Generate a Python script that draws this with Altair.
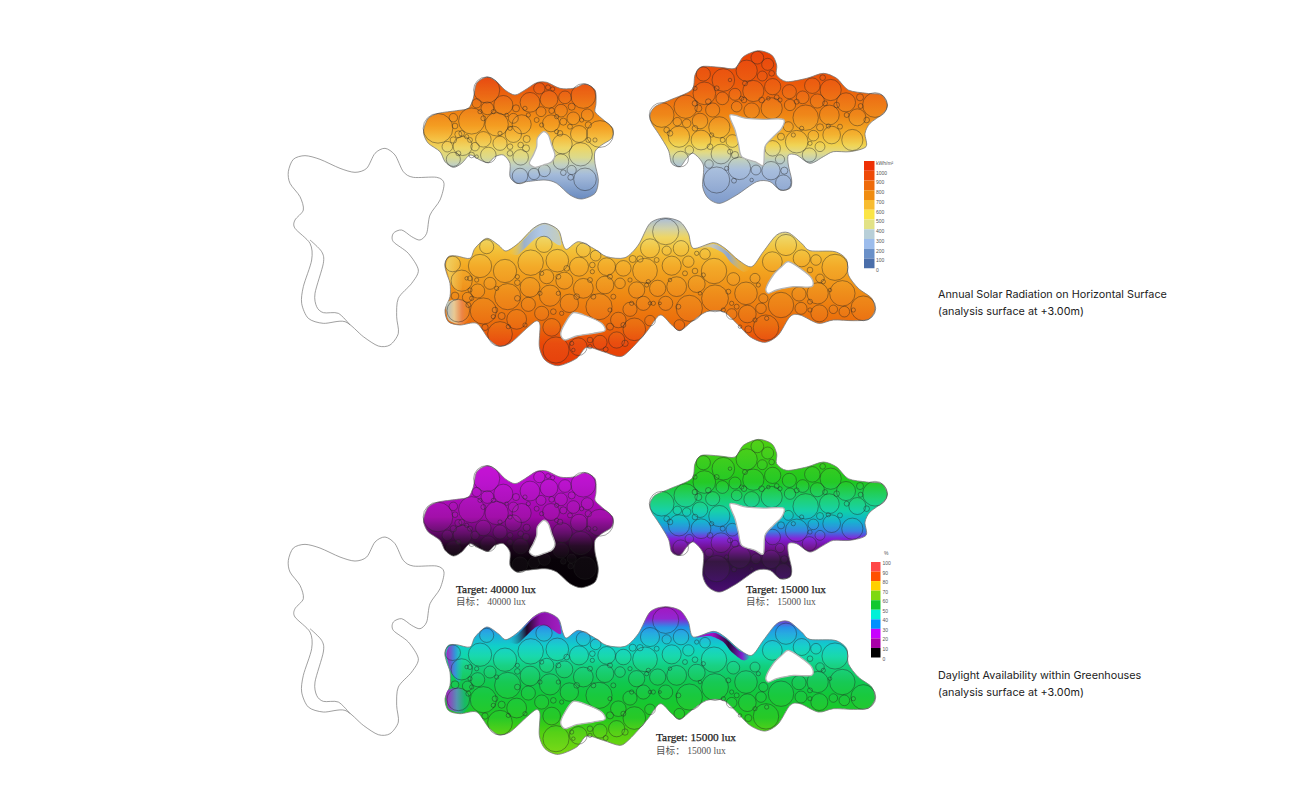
import altair as alt
import pandas as pd

TL_O = (280, 40)
TL_OUT = [(432,265),(445,235),(475,220),(530,212),(565,205),(580,175),(590,130),(622,111),(650,125),(675,150),(705,165),(735,150),(770,128),(800,127),(840,145),(880,145),(915,132),(945,150),(948,190),(945,215),(965,235),(998,265),(995,295),(965,315),(945,335),(945,370),(955,420),(945,460),(905,477),(870,465),(830,430),(795,420),(740,425),(710,430),(690,410),(690,370),(670,345),(645,350),(625,368),(600,360),(570,345),(545,370),(520,382),(495,365),(480,335),(445,310),(432,285)]
TL_HOLE = [(790,275),(805,285),(815,315),(825,345),(815,365),(790,375),(765,382),(748,370),(760,345),(770,320),(772,295)]
TL_C = [(620,150,37),(474,265,42),(575,243,37),(650,253,33),(670,195,27),(750,187,28),(807,178,25),(855,172,18),(910,168,35),(778,145,16),(804,142,7),(818,147,6),(622,205,18),(590,190,13),(520,233,12),(725,253,27),(813,250,24),(880,235,18),(843,212,18),(922,225,17),(960,282,38),(897,282,24),(847,312,28),(902,343,33),(915,418,32),(875,390,13),(843,365,22),(793,392,17),(762,402,16),(722,352,22),(720,408,22),(700,283,23),(660,310,20),(610,298,22),(548,318,27),(625,345,22),(520,358,20),(502,320,15),(585,320,12),(535,283,10),(525,258,8),(700,235,14),(708,205,10),(783,215,14),(850,245,10),(875,200,10),(925,255,9),(815,212,8),(830,275,6),(740,297,10),(722,315,8),(738,325,10),(872,412,8),(850,398,8),(520,300,9),(560,290,6),(590,350,5),(690,340,8),
        (610,235,7),(545,280,8),(570,300,7),(535,340,7),(575,345,8),(660,280,6),(690,265,6),(770,240,7),(785,255,6),(840,280,8),(870,260,7),(925,300,7),(945,300,6),(905,240,6),(830,230,6),(690,320,8),(745,225,6),(735,205,6),(680,225,5),(600,215,6),(640,215,6)]

TR_O = (620, 40)
TR_OUT = [(90,225),(105,200),(150,180),(215,150),(225,105),(245,80),(300,82),(345,85),(370,50),(415,32),(455,45),(470,75),(470,105),(500,125),(560,115),(610,100),(650,115),(685,150),(740,160),(785,165),(802,195),(790,220),(750,250),(735,280),(738,320),(690,335),(640,335),(610,350),(570,370),(530,345),(505,345),(505,375),(515,420),(510,445),(480,450),(450,425),(410,425),(350,465),(300,490),(265,475),(248,440),(250,375),(220,340),(200,355),(180,380),(155,370),(145,330),(115,280),(95,250)]
TR_HOLE = [(330,225),(380,235),(430,238),(490,238),(485,265),(460,290),(435,320),(430,375),(405,365),(365,350),(355,310),(345,270)]
TR_C = [(125,225,35),(197,200,33),(253,160,32),(310,120,32),(250,102,20),(380,92,30),(412,53,18),(443,73,17),(400,153,30),(458,140,23),(508,155,20),(577,137,22),(632,150,30),(678,187,27),(765,195,35),(712,232,24),(628,225,28),(557,233,36),(455,205,30),(510,195,16),(395,212,22),(350,200,15),(345,163,17),(307,175,18),(278,210,20),(240,243,22),(172,245,12),(200,250,12),(177,290,30),(243,300,28),(298,262,30),(308,300,7),(337,303,18),(208,330,12),(182,357,22),(303,342,28),(267,372,12),(358,385,32),(290,420,37),(408,390,14),(453,392,26),(490,428,22),(493,392,10),(480,358,13),(458,325,22),(530,305,32),(580,287,15),(600,320,14),(568,345,20),(635,285,25),(697,300,30),(505,260,14),(600,262,10),(483,290,10),(548,172,18),(592,183,20),(427,108,14),(455,100,8),(608,113,8),(720,172,10),(722,198,7),(372,180,8),(235,205,10),(140,270,8),(345,345,10),(342,422,7),
        (225,190,8),(265,185,8),(150,280,8),(225,265,8),(275,285,6),(270,320,8),(330,335,7),(365,175,6),(425,180,8),(470,172,7),(530,185,7),(480,180,6),(615,190,7),(650,195,8),(680,225,7),(740,240,8),(660,260,7),(625,258,6),(570,310,6),(545,265,6),(520,285,6),(395,420,5),(320,385,6),(225,145,6),(290,145,7),(445,175,5),(375,130,7),(330,120,5)]

BT_O = (430, 210)
BT_OUT = [(45,165),(55,140),(80,138),(120,145),(135,115),(170,85),(205,105),(228,123),(265,100),(310,55),(345,40),(385,60),(398,100),(410,118),(445,95),(490,115),(530,140),(585,143),(625,105),(660,40),(705,24),(750,35),(775,70),(790,115),(850,98),(885,115),(925,150),(965,170),(1000,125),(1040,75),(1075,68),(1115,100),(1140,122),(1215,125),(1250,150),(1255,195),(1285,235),(1325,265),(1335,300),(1315,328),(1270,332),(1210,330),(1165,340),(1110,315),(1080,320),(1045,375),(1005,397),(960,380),(920,340),(880,305),(830,305),(785,335),(750,362),(725,345),(690,315),(650,365),(600,420),(570,440),(520,425),(470,412),(440,445),(385,467),(345,450),(328,410),(330,345),(318,333),(290,355),(240,400),(205,408),(175,385),(140,340),(90,345),(55,335),(45,300),(60,260),(60,220),(50,190)]
BT_HOLE1 = [(430,308),(470,318),(515,340),(525,362),(490,370),(440,378),(405,390),(392,372),(405,340)]
BT_HOLE2 = [(1075,155),(1110,175),(1145,205),(1145,230),(1090,230),(1040,240),(1015,250),(1008,235),(1030,195),(1055,170)]
BT_C = [(68,162,22),(95,212,30),(85,302,32),(160,303,37),(150,168,33),(225,183,33),(233,260,37),(180,220,17),(143,243,20),(170,110,20),(210,372,35),(260,328,28),(300,232,28),(295,283,20),(302,158,36),(382,152,32),(342,103,23),(350,200,20),(360,257,30),(403,212,24),(418,280,26),(335,310,20),(365,352,25),(378,420,37),(445,410,25),(510,397,20),(560,390,23),(613,358,32),(565,330,22),(600,298,20),(507,290,37),(460,235,28),(447,170,27),(460,120,20),(497,137,15),(530,170,25),(525,225,25),(570,220,15),(580,175,22),(620,240,23),(645,182,35),(660,115,27),(707,65,37),(753,115,22),(710,122,13),(725,167,27),(683,235,23),(740,230,28),(800,222,24),(775,155,16),(852,183,36),(825,132,15),(640,280,20),(707,280,20),(660,332,15),(748,345,15),(778,295,37),(855,265,38),(905,312,15),(952,312,25),(948,250,32),(975,205,14),(910,207,18),(1027,155,28),(1068,105,30),(1115,145,24),(1158,150,15),(1215,172,37),(1237,250,36),(1163,250,30),(1107,252,20),(1053,285,36),(1113,295,17),(1168,310,24),(1243,305,15),(1300,295,35),(1008,353,36),(993,295,15),(1000,265,13),(1210,298,12),(955,358,10),(630,147,9),(608,147,10),(680,150,7),(487,165,8),(487,185,6),(262,218,8),(140,210,6),(112,262,14),(75,258,11),(165,352,9),(215,318,10),(370,305,8),(395,310,6),(425,400,6),(480,390,8),(540,350,10),(527,418,7),(585,400,9),(650,225,6),(795,183,8),(800,130,6),(895,245,7),(905,280,6),(1140,300,6),(1140,180,8),(1170,205,12),(660,280,5),(690,280,4),
        (120,205,7),(120,240,6),(110,205,5),(200,235,6),(195,300,8),(125,265,6),(262,265,8),(262,200,6),(330,250,6),(335,190,6),(385,200,7),(385,250,6),(410,175,8),(480,210,7),(490,260,7),(440,260,8),(550,260,7),(540,200,7),(600,210,6),(655,215,6),(670,280,6),(745,290,7),(720,210,5),(765,190,7),(820,195,6),(810,250,5),(880,300,6),(920,290,7),(985,225,6),(1180,215,6),(1200,240,5),(1270,300,6),(1140,275,7),(1010,325,6),(975,330,6),(930,350,5),(540,300,6),(580,345,7),(605,280,6),(430,420,5),(480,410,6),(285,345,6),(235,350,6),(190,320,6),(115,285,7)]

SITE_OUT = [(25,395),(40,358),(75,347),(120,358),(180,385),(225,397),(260,385),(285,340),(315,325),(345,345),(370,395),(400,412),(470,412),(492,430),(480,480),(450,525),(440,580),(420,600),(395,590),(365,570),(340,580),(340,605),(385,640),(415,690),(395,730),(355,775),(350,830),(355,880),(330,915),(295,918),(250,890),(195,845),(130,850),(85,835),(65,790),(70,740),(95,660),(90,610),(45,565),(45,540),(70,510),(60,470),(30,430)]
SITE_IN = [(90,600),(125,635),(130,670),(105,760),(110,800),(130,818),(175,820),(210,855)]

# tinted zones along ridges and the left lobes
P_R1 = [(235,127),(265,105),(310,60),(345,44),(382,62),(394,100),(385,105),(345,80),(318,85),(285,115),(262,135)]
P_R2 = [(800,116),(850,102),(885,119),(925,154),(960,173),(940,185),(905,160),(880,130),(840,112)]
P_L1 = [(54,275),(90,268),(128,305),(100,342),(58,332),(49,300)]
P_L2 = [(49,165),(58,143),(80,141),(100,190),(90,250),(63,220),(54,190)]

DY = 388.7

# colour stops (offset, colour), top to bottom
G_TL = [(0,"#e8440a"),(.25,"#ee7a10"),(.4,"#f49a1a"),(.5,"#f5bc3a"),(.58,"#eed560"),(.66,"#dad98a"),(.72,"#c0cfc0"),(.8,"#a3bada"),(1,"#6a8bc0")]
G_TR = [(0,"#e93f05"),(.22,"#ec5a0a"),(.42,"#ef8412"),(.55,"#f3b02a"),(.62,"#f0d350"),(.67,"#e0da88"),(.72,"#bccdc0"),(.78,"#a6bcdc"),(1,"#7f9bcb")]
G_BT = [(0,"#a8bcd8"),(.07,"#cfd0a8"),(.13,"#efd560"),(.22,"#f3c138"),(.33,"#f3a822"),(.5,"#ef8c14"),(.72,"#eb6a0a"),(.85,"#e94808"),(1,"#e63a05")]
G_TL2 = [(0,"#c40cd4"),(.15,"#b80ccc"),(.42,"#a008a8"),(.55,"#600868"),(.66,"#200520"),(.77,"#080208"),(1,"#050005")]
G_TR2 = [(0,"#4ed010"),(.28,"#1ec81e"),(.39,"#18d070"),(.47,"#10d0a8"),(.54,"#10b0d0"),(.6,"#3080e0"),(.65,"#8020d8"),(.71,"#701090"),(.8,"#30103c"),(.93,"#3c0c60"),(1,"#4a0e70")]
G_BT2 = [(0,"#a010c0"),(.08,"#9020d0"),(.14,"#2090e8"),(.18,"#20a8e0"),(.27,"#10d0c8"),(.34,"#12d8a8"),(.4,"#12d080"),(.51,"#10c850"),(.6,"#12c838"),(.75,"#20c820"),(.85,"#50d010"),(1,"#78d810")]

T_R1 = [(0,"rgba(240,210,80,0)"),(.3,"#9db1c8"),(.6,"#b0c8e6"),(1,"#c6cdb8")]
T_R2 = [(0,"rgba(200,200,190,0)"),(.3,"#c4c6bc"),(.6,"#8fa6cc"),(1,"rgba(240,210,80,0)")]
T_L1 = [(0,"#b0c0c0"),(.3,"#e8c890"),(.6,"#ec8040"),(1,"rgba(239,140,20,0)")]
T_L2 = [(0,"#f0d060"),(1,"rgba(240,208,96,0)")]
T_R1B = [(0,"rgba(30,180,200,0)"),(.35,"#200a28"),(.6,"#8a10a8"),(1,"#a020c0")]
T_R2B = [(0,"#a010c0"),(.3,"#a010c0"),(.6,"#2a0a3c"),(.85,"#8020d0"),(1,"rgba(128,32,208,0)")]
T_L1B = [(0,"#a020c0"),(.4,"#5090b0"),(.7,"#10b860"),(1,"rgba(16,184,96,0)")]
T_L2B = [(0,"#a020c0"),(.5,"#3090d8"),(1,"rgba(16,200,200,0)")]

LEG1_COLORS = ["#ee3005","#ee4a08","#ee6a0a","#f08c10","#f8bc30","#fbe545","#e2e286","#b8cfd8","#9cbcec","#6a90c8","#4a6eaa"]
LEG1_LABELS = ["kWh/m²","1000","900","800","700","600","500","400","300","200","100","0"]
LEG2_COLORS = ["#ff4848","#ff5000","#ffd000","#7ed810","#10c830","#00f0d8","#0090ff","#c800ff","#a800a8","#000000"]
LEG2_LABELS = ["100","90","80","70","60","50","40","30","20","10","0"]

TITLES = [("Annual Solar Radiation on Horizontal Surface",938,294.5),("(analysis surface at +3.00m)",938,311.5),
          ("Daylight Availability within Greenhouses",938,675.5),("(analysis surface at +3.00m)",938,692.5)]
TARGETS = [("Target: 40000 lux",456,590),("Target: 15000 lux",746,590),("Target: 15000 lux",656,738)]
TARGETS_CN = [("目标： 40000  lux",456,602),("目标： 15000  lux",746,602),("目标： 15000  lux",656,751)]

X = alt.X("x:Q", scale=alt.Scale(domain=[8,1292], nice=False, zero=False), axis=None)
Y = alt.Y("y:Q", scale=alt.Scale(domain=[790,8], nice=False, zero=False), axis=None)

def frame(pts, o, dy=0):
    return pd.DataFrame({"x":[o[0]+p[0]/3 for p in pts], "y":[o[1]+p[1]/3+dy for p in pts], "i":list(range(len(pts)))})

def grad(stops, horiz=False):
    return alt.LinearGradient(gradient="linear", x1=0, x2=1 if horiz else 0, y1=0, y2=0 if horiz else 1,
        stops=[alt.GradientStop(offset=a, color=c) for a,c in stops])

def blob(pts, o, dy, stops):
    return alt.Chart(frame(pts,o,dy)).mark_line(interpolate="cardinal-closed", tension=0.15, fill=grad(stops),
        stroke="#777777", strokeWidth=0.8).encode(x=X, y=Y, order="i:Q")

def patch(pts, o, dy, stops):
    return alt.Chart(frame(pts,o,dy)).mark_line(interpolate="cardinal-closed", tension=0.15, fill=grad(stops, True),
        strokeOpacity=0).encode(x=X, y=Y, order="i:Q")

def hole(pts, o, dy):
    return alt.Chart(frame(pts,o,dy)).mark_line(interpolate="cardinal-closed", tension=0.15, fill="white",
        stroke="#b5b5b5", strokeWidth=1.3).encode(x=X, y=Y, order="i:Q")

def rings(cs, o, dy):
    d = pd.DataFrame({"x":[o[0]+c[0]/3 for c in cs], "y":[o[1]+c[1]/3+dy for c in cs], "s":[4*(1.06*c[2]/3)**2 for c in cs]})
    return alt.Chart(d).mark_point(shape="circle", filled=False, fill="white", fillOpacity=0.03, stroke="#222222",
        strokeOpacity=0.7, strokeWidth=0.6).encode(x=X, y=Y, size=alt.Size("s:Q", scale=None, legend=None))

def site(dy):
    a = alt.Chart(frame(SITE_OUT,TL_O,dy)).mark_line(interpolate="cardinal-closed", tension=0.15, stroke="#777777", strokeWidth=0.7).encode(x=X,y=Y,order="i:Q")
    b = alt.Chart(frame(SITE_IN,TL_O,dy)).mark_line(interpolate="cardinal", tension=0.15, stroke="#777777", strokeWidth=0.7).encode(x=X,y=Y,order="i:Q")
    return [a,b]

layers = []
layers += site(0) + site(DY)
for dy, gs, ts in ((0,(G_TL,G_TR,G_BT),(T_R1,T_R2,T_L1,T_L2)), (DY,(G_TL2,G_TR2,G_BT2),(T_R1B,T_R2B,T_L1B,T_L2B))):
    layers += [blob(TL_OUT,TL_O,dy,gs[0]), rings(TL_C,TL_O,dy), hole(TL_HOLE,TL_O,dy)]
    layers += [blob(TR_OUT,TR_O,dy,gs[1]), rings(TR_C,TR_O,dy), hole(TR_HOLE,TR_O,dy)]
    layers += [blob(BT_OUT,BT_O,dy,gs[2]),
               patch(P_R1,BT_O,dy,ts[0]), patch(P_R2,BT_O,dy,ts[1]), patch(P_L1,BT_O,dy,ts[2]), patch(P_L2,BT_O,dy,ts[3]),
               rings(BT_C,BT_O,dy), hole(BT_HOLE1,BT_O,dy), hole(BT_HOLE2,BT_O,dy)]

# legends
def leg_bars(colors, x0, x1, y0, h):
    d = pd.DataFrame({"x":[x0]*len(colors),"x2":[x1]*len(colors),"y":[y0+k*h for k in range(len(colors))],
                      "y2":[y0+(k+1)*h for k in range(len(colors))],"c":colors})
    return alt.Chart(d).mark_rect().encode(x=X, x2="x2:Q", y=Y, y2="y2:Q", color=alt.Color("c:N", scale=None, legend=None))
layers.append(leg_bars(LEG1_COLORS,864,874.5,161,9.75))
layers.append(leg_bars(LEG2_COLORS,871,880.5,562,9.55))

def texts(rows, **kw):
    d = pd.DataFrame(rows, columns=["t","x","y"])
    return alt.Chart(d).mark_text(align="left", baseline="middle", **kw).encode(x=X, y=Y, text="t:N")

layers.append(texts([(t,876,162.5+k*9.75 if k==0 else 172.5+(k-1)*9.75) for k,t in enumerate(LEG1_LABELS)], font="Liberation Sans", fontSize=5, fill="#555555"))
layers.append(texts([("%",884,553)]+[(t,882.5,563+k*9.55) for k,t in enumerate(LEG2_LABELS)], font="Liberation Sans", fontSize=5, fill="#555555"))
layers.append(texts(TITLES, font="Inter", fontSize=10.8, fill="#222222"))
layers.append(texts(TARGETS, font="Liberation Serif", fontSize=11.3, fill="#222222", stroke="#222222", strokeWidth=0.25))
layers.append(texts(TARGETS_CN, font="Liberation Serif, Noto Sans CJK SC", fontSize=9.6, fill="#555555"))

chart = alt.layer(*layers).properties(width=1284, height=782, padding=0, autosize=alt.AutoSizeParams(type="none"),
    background="white").configure_view(stroke=None)
chart.save("out.html", embed_options={"renderer": "svg", "actions": False})
